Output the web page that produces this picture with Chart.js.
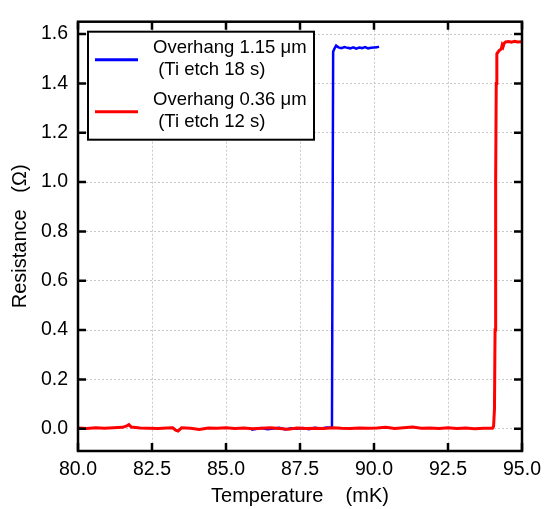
<!DOCTYPE html>
<html>
<head>
<meta charset="utf-8">
<script src="https://cdn.jsdelivr.net/npm/chart.js"></script>
<style>
  html, body { margin: 0; padding: 0; background: #fff; }
  canvas { display: block; }
</style>
</head>
<body>
<canvas id="chart" width="548" height="509"></canvas>
<script>
// tick labels
const xTicks = [80.0, 82.5, 85.0, 87.5, 90.0, 92.5, 95.0];
const yTicks = [0.0, 0.2, 0.4, 0.6, 0.8, 1.0, 1.2, 1.4, 1.6];

// Overhang 1.15 um (Ti etch 18 s)
const blueT = [85.85, 86.0, 86.2, 86.4, 86.6, 86.8, 87.0, 87.2, 87.4, 87.6,
  87.8, 88.0, 88.2, 88.4, 88.58, 88.6, 88.62, 88.66, 88.72, 88.8,
  88.9, 89.0, 89.1, 89.2, 89.3, 89.4, 89.5, 89.6, 89.7, 89.8,
  89.9, 90.0, 90.1, 90.17];
const blueR = [-0.004, -0.001, 0.003, -0.002, 0.001, 0.004, -0.003, 0.002, 0.000, 0.003,
  -0.002, 0.004, 0.001, 0.005, 0.004, 0.8, 1.528, 1.54, 1.553, 1.546,
  1.543, 1.547, 1.544, 1.542, 1.546, 1.541, 1.545, 1.543, 1.547, 1.542,
  1.544, 1.545, 1.546, 1.549];

// Overhang 0.36 um (Ti etch 12 s)
const redT = [80.0, 80.3, 80.6, 80.9, 81.2, 81.5, 81.65, 81.72, 81.8, 82.1,
  82.4, 82.7, 83.0, 83.2, 83.3, 83.38, 83.5, 83.8, 84.1, 84.4,
  84.7, 85.0, 85.3, 85.6, 85.9, 86.2, 86.5, 86.8, 87.1, 87.4,
  87.7, 88.0, 88.3, 88.6, 88.9, 89.2, 89.5, 89.8, 90.1, 90.4,
  90.7, 91.0, 91.3, 91.6, 91.9, 92.2, 92.5, 92.8, 93.1, 93.4,
  93.7, 94.0, 94.04, 94.07, 94.09, 94.11, 94.13, 94.15, 94.22, 94.3,
  94.33, 94.36, 94.4, 94.45, 94.55, 94.65, 94.75, 94.85, 95.0];
const redR = [0.003, 0.001, 0.004, 0.002, 0.004, 0.006, 0.012, 0.017, 0.007, 0.003,
  0.002, 0.001, 0.003, 0.004, -0.006, -0.009, 0.004, 0.002, -0.003, 0.003,
  0.002, 0.004, 0.001, 0.003, 0.000, 0.002, 0.004, 0.001, -0.002, 0.003,
  0.001, 0.002, 0.001, 0.004, 0.002, 0.001, 0.003, 0.002, 0.003, 0.006,
  0.001, 0.004, 0.007, 0.002, 0.003, 0.001, 0.004, 0.001, 0.003, 0.000,
  0.002, 0.002, 0.01, 0.08, 0.4, 1.0, 1.4, 1.52, 1.532, 1.54,
  1.555, 1.548, 1.563, 1.568, 1.57, 1.567, 1.571, 1.568, 1.569];

const legendItems = [
  { lines: ["Overhang 1.15 \u03bcm", " (Ti etch 18 s)"], color: "#0000ff" },
  { lines: ["Overhang 0.36 \u03bcm", " (Ti etch 12 s)"], color: "#ff0000" }
];

const FONT = "'Liberation Sans', Arial, sans-serif";

// frame, inward ticks on all four sides, and the boxed legend
const framePlugin = {
  id: "frame",
  afterDraw(chart) {
    const { ctx, chartArea: a, scales } = chart;
    ctx.save();
    ctx.strokeStyle = "#000";
    ctx.lineWidth = 2.5;
    const tl = 8;
    ctx.beginPath();
    xTicks.forEach(v => {
      const px = scales.x.getPixelForValue(v);
      ctx.moveTo(px, a.bottom); ctx.lineTo(px, a.bottom - tl);
      ctx.moveTo(px, a.top); ctx.lineTo(px, a.top + tl);
    });
    yTicks.forEach(v => {
      const py = scales.y.getPixelForValue(v);
      ctx.moveTo(a.left, py); ctx.lineTo(a.left + tl, py);
      ctx.moveTo(a.right, py); ctx.lineTo(a.right - tl, py);
    });
    ctx.stroke();
    ctx.strokeRect(a.left, a.top, a.right - a.left, a.bottom - a.top);

    // legend
    const lx = a.left + 10, ly = a.top + 10, lw = 226, lh = 108;
    ctx.fillStyle = "#fff";
    ctx.fillRect(lx, ly, lw, lh);
    ctx.lineWidth = 2;
    ctx.strokeRect(lx, ly, lw, lh);
    ctx.font = "18.5px " + FONT;
    ctx.textBaseline = "middle";
    ctx.textAlign = "left";
    legendItems.forEach((it, i) => {
      const y0 = ly + 16 + i * 52;
      ctx.strokeStyle = it.color;
      ctx.lineWidth = 3;
      ctx.beginPath();
      ctx.moveTo(lx + 7, y0 + 12);
      ctx.lineTo(lx + 50, y0 + 12);
      ctx.stroke();
      ctx.fillStyle = "#000";
      ctx.fillText(it.lines[0], lx + 65, y0);
      ctx.fillText(it.lines[1], lx + 65, y0 + 22);
    });
    ctx.restore();
  }
};

new Chart(document.getElementById("chart"), {
  type: "scatter",
  data: {
    datasets: [
      {
        label: "Overhang 0.36 \u03bcm (Ti etch 12 s)",
        data: redT.map((t, i) => ({ x: t, y: redR[i] })),
        showLine: true,
        borderColor: "#ff0000",
        borderWidth: 3,
        pointRadius: 0,
        order: 0
      },
      {
        label: "Overhang 1.15 \u03bcm (Ti etch 18 s)",
        data: blueT.map((t, i) => ({ x: t, y: blueR[i] })),
        showLine: true,
        borderColor: "#0000ff",
        borderWidth: 2.5,
        pointRadius: 0,
        order: 1
      }
    ]
  },
  options: {
    responsive: false,
    animation: false,
    layout: { padding: { top: 9, right: 26, left: 0, bottom: 0 } },
    plugins: { legend: { display: false }, tooltip: { enabled: false } },
    scales: {
      x: {
        type: "linear",
        min: 80, max: 95,
        afterBuildTicks: s => { s.ticks = xTicks.map(v => ({ value: v })); },
        afterFit: s => { s.height = 58; },
        ticks: {
          color: "#000", padding: 7,
          font: { family: FONT, size: 19.5 },
          callback: v => v.toFixed(1),
          maxRotation: 0
        },
        grid: { color: "#c8c8c8", lineWidth: 1, drawTicks: false },
        border: { display: false, dash: [2, 2] },
        title: {
          display: true, text: "Temperature    (mK)", color: "#000",
          font: { family: FONT, size: 20 },
          padding: { top: 0, bottom: 1 }
        }
      },
      y: {
        type: "linear",
        min: -0.09, max: 1.65,
        afterBuildTicks: s => { s.ticks = yTicks.map(v => ({ value: v })); },
        afterFit: s => { s.width = 78; },
        ticks: {
          color: "#000", padding: 10,
          font: { family: FONT, size: 19.5 },
          callback: v => v.toFixed(1)
        },
        grid: { color: "#c8c8c8", lineWidth: 1, drawTicks: false },
        border: { display: false, dash: [2, 2] },
        title: {
          display: true, text: "Resistance   (\u03a9)", color: "#000",
          font: { family: FONT, size: 20 },
          padding: { top: 8, bottom: 0 }
        }
      }
    }
  },
  plugins: [framePlugin]
});
</script>
</body>
</html>
